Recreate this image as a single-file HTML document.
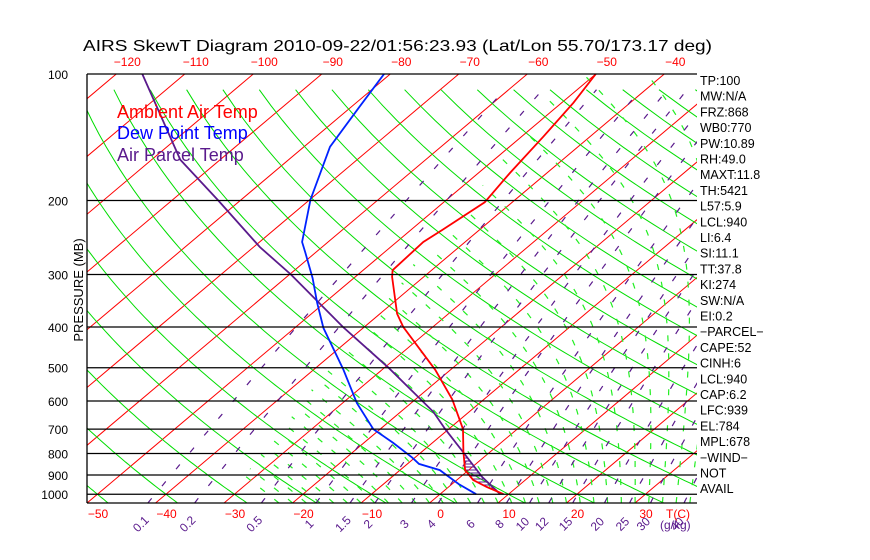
<!DOCTYPE html>
<html><head><meta charset="utf-8"><style>
body{margin:0;background:#fff;}
svg{display:block;font-family:"Liberation Sans",sans-serif;}
</style></head><body>
<svg id="c" width="870" height="560" xmlns="http://www.w3.org/2000/svg">
<defs><clipPath id="clip"><rect x="87" y="74" width="610" height="429"/></clipPath></defs>
<text x="83" y="51" font-size="16" textLength="629" lengthAdjust="spacingAndGlyphs" fill="#000">AIRS SkewT Diagram 2010-09-22/01:56:23.93 (Lat/Lon 55.70/173.17 deg)</text>
<text transform="translate(83,290) rotate(-90)" text-anchor="middle" font-size="13" fill="#000">PRESSURE (MB)</text>
<g id="grid" clip-path="url(#clip)"></g>
<g id="marks" clip-path="url(#clip)"></g>
<g id="axes"></g>
<text x="117" y="118" font-size="18" fill="#ff0000">Ambient Air Temp</text>
<text x="117" y="139" font-size="18" fill="#0000ff">Dew Point Temp</text>
<text x="117" y="161" font-size="18" fill="#5a1a8c">Air Parcel Temp</text>
</svg>
<script>
const pressureTicks=[100,200,300,400,500,600,700,800,900,1000];
const tempTicks=[-50,-40,-30,-20,-10,0,10,20,30];
const topTempTicks=[-120,-110,-100,-90,-80,-70,-60,-50,-40];
const mixRatios=[0.1,0.2,0.5,1,1.5,2,3,4,6,8,10,12,15,20,25,30,40];
const ambP=[100,117,141,172,202,235,251,293,304,372,400,506,595,700,793,876,925,961,1000];
const ambT=[-50.0,-48.3,-46.8,-45.4,-44.0,-45.4,-46.1,-45.7,-44.6,-37.5,-34.3,-22.2,-14.6,-7.9,-3.9,-0.5,2.4,5.6,9.3];
const dewP=[100,120,149,199,251,266,306,350,402,506,607,700,755,818,847,876,946,1000];
const dewT=[-80.9,-78.8,-76.2,-69.9,-63.8,-61.5,-56.0,-51.1,-45.8,-35.6,-27.9,-21.0,-15.7,-10.4,-8.3,-4.2,1.0,5.3];
const parP=[100,160,200,258,300,400,500,637,700,800,910,1000];
const parT=[-116.2,-95.8,-83.2,-69.1,-59.8,-43.1,-29.4,-15.2,-10.5,-3.5,3.2,8.8];
const rightLabels=["TP:100","MW:N/A","FRZ:868","WB0:770","PW:10.89","RH:49.0","MAXT:11.8","TH:5421","L57:5.9","LCL:940","LI:6.4","SI:11.1","TT:37.8","KI:274","SW:N/A"," EI:0.2","\u2212PARCEL\u2212","CAPE:52","CINH:6","LCL:940","CAP:6.2","LFC:939","EL:784","MPL:678","\u2212WIND\u2212"," NOT"," AVAIL"];

const NS="http://www.w3.org/2000/svg";
const PB=1049;
function Y(p){return 74+182.5*Math.log(p/100);}
function X(T,p){return 87+(T+50)*6.85+(503-Y(p))*1.186;}
const grid=document.getElementById('grid'),marks=document.getElementById('marks'),axes=document.getElementById('axes');
function el(tag,attrs,parent){const e=document.createElementNS(NS,tag);for(const k in attrs)e.setAttribute(k,attrs[k]);parent.appendChild(e);return e;}
function pathFrom(pts){return pts.map((q,i)=>(i?'L':'M')+q[0].toFixed(1)+','+q[1].toFixed(1)).join('');}

// isotherms
for(let T=-140;T<=50;T+=10){
  const e=el('line',{x1:X(T,PB),y1:503,x2:X(T,100),y2:74,stroke:'#ff0000','stroke-width':1},grid);
  
  
}
// dry adiabats
for(let th=-60;th<=200;th+=10){
  const pts=[];
  for(let p=PB;p>=100;p-=10){const T=(th+273.15)*Math.pow(p/1000,0.286)-273.15;pts.push([X(T,p),Y(p)]);}
  const e=el('path',{d:pathFrom(pts),fill:'none',stroke:'#00dd00','stroke-width':1},grid);
  
  
}
// moist adiabats (shown only where saturation mixing ratio > 0.3 g/kg)
function es(T){return 6.112*Math.exp(17.67*T/(T+243.5));}
for(let T0=-22;T0<=40;T0+=2){
  let T=T0+273.15,p=PB;const pts=[[X(T0,p),Y(p)]];
  while(p>100){
    const dp=-5;const Tc=T-273.15;const rs=0.622*es(Tc)/(p-es(Tc));
    if(rs*1000<0.3)break;
    const Lv=2.5e6,Rd=287,cp=1005;
    const dTdp=(Rd*T+Lv*rs)/(p*(cp+Lv*Lv*rs*0.622/(Rd*T*T)));
    T+=dTdp*dp;p+=dp;pts.push([X(T-273.15,p),Y(p)]);
  }
  if(pts.length<2)continue;
  const e=el('path',{d:pathFrom(pts),fill:'none',stroke:'#22ee22','stroke-width':1.2,'stroke-dasharray':'6,12'},grid);
  
  
}
// mixing ratio lines
function tdFromW(w,p){const e=w*p/(622+w);const x=Math.log(e/6.112);return 243.5*x/(17.67-x);}
mixRatios.forEach(w=>{
  const pts=[];for(let p=PB;p>=100;p-=10)pts.push([X(tdFromW(w,p),p),Y(p)]);
  const e=el('path',{d:pathFrom(pts),fill:'none',stroke:'#5a1a8c','stroke-width':1.2,'stroke-dasharray':'6,16'},grid);
  
  
  const xb=X(tdFromW(w,PB),PB)-7;
  const t=el('text',{x:xb,y:528,'font-size':12,fill:'#5a1a8c','text-anchor':'middle',transform:`rotate(-45 ${xb} 524)`},axes);
  t.textContent=String(w);
  
  
});
// isobars
pressureTicks.forEach(p=>{
  const y=Y(p);
  const e=el('line',{x1:87,y1:y,x2:697,y2:y,stroke:'#000','stroke-width':1.3},axes);
  
  
  const t=el('text',{x:68,y:y+5,'font-size':12,'text-anchor':'end',fill:'#000'},axes);
  t.textContent=String(p);
  
  
});
{const b=el('line',{x1:87,y1:503,x2:697,y2:503,stroke:'#000','stroke-width':1.3},axes);


const l=el('line',{x1:87,y1:74,x2:87,y2:503,stroke:'#000','stroke-width':1.3},axes);

}
tempTicks.forEach(T=>{
  const t=el('text',{x:X(T,PB)+11,y:518,'font-size':12,'text-anchor':'middle',fill:'#ff0000'},axes);
  t.textContent=T<0?'\u2212'+(-T):String(T);
  
  
});
topTempTicks.forEach(T=>{
  const t=el('text',{x:X(T,100)+11,y:66,'font-size':12,'text-anchor':'middle',fill:'#ff0000'},axes);
  t.textContent=T<0?'\u2212'+(-T):String(T);
  
  
});
{const t=el('text',{x:678,y:518,'font-size':12,'text-anchor':'middle',fill:'#ff0000'},axes);t.textContent='T(C)';


const g=el('text',{x:660,y:529,'font-size':12,fill:'#5a1a8c'},axes);g.textContent='(g/kg)';

}
// CAPE hatch
function interp(P,T,p){for(let i=0;i<P.length-1;i++){if(p>=P[i]&&p<=P[i+1]){const f=(Math.log(p)-Math.log(P[i]))/(Math.log(P[i+1])-Math.log(P[i]));return T[i]+f*(T[i+1]-T[i]);}}return null;}
for(let y=452;y<=493;y+=3){
  const p=100*Math.exp((y-74)/182.5);
  const ta=interp(ambP,ambT,p),tp=interp(parP,parT,p);
  if(ta!==null&&tp!==null&&tp>ta){
    const e=el('line',{x1:X(ta,p),y1:y,x2:X(tp,p),y2:y,stroke:'#5a1a8c','stroke-width':1},marks);
    
    
  }
}
function profile(P,T,color,name){
  const e=el('path',{d:pathFrom(P.map((p,i)=>[X(T[i],p),Y(p)])),fill:'none',stroke:color,'stroke-width':1.8},marks);
  
  
}
profile(parP,parT,'#5a1a8c','parcel-temp-line');
profile(dewP,dewT,'#0022ff','dewpoint-line');
profile(ambP,ambT,'#ff0000','ambient-temp-line');
rightLabels.forEach((s,i)=>{
  const t=el('text',{x:700,y:85+i*15.7,'font-size':12.5,fill:'#000','xml:space':'preserve'},axes);
  t.textContent=s;
  
  
});
</script>
</body></html>
